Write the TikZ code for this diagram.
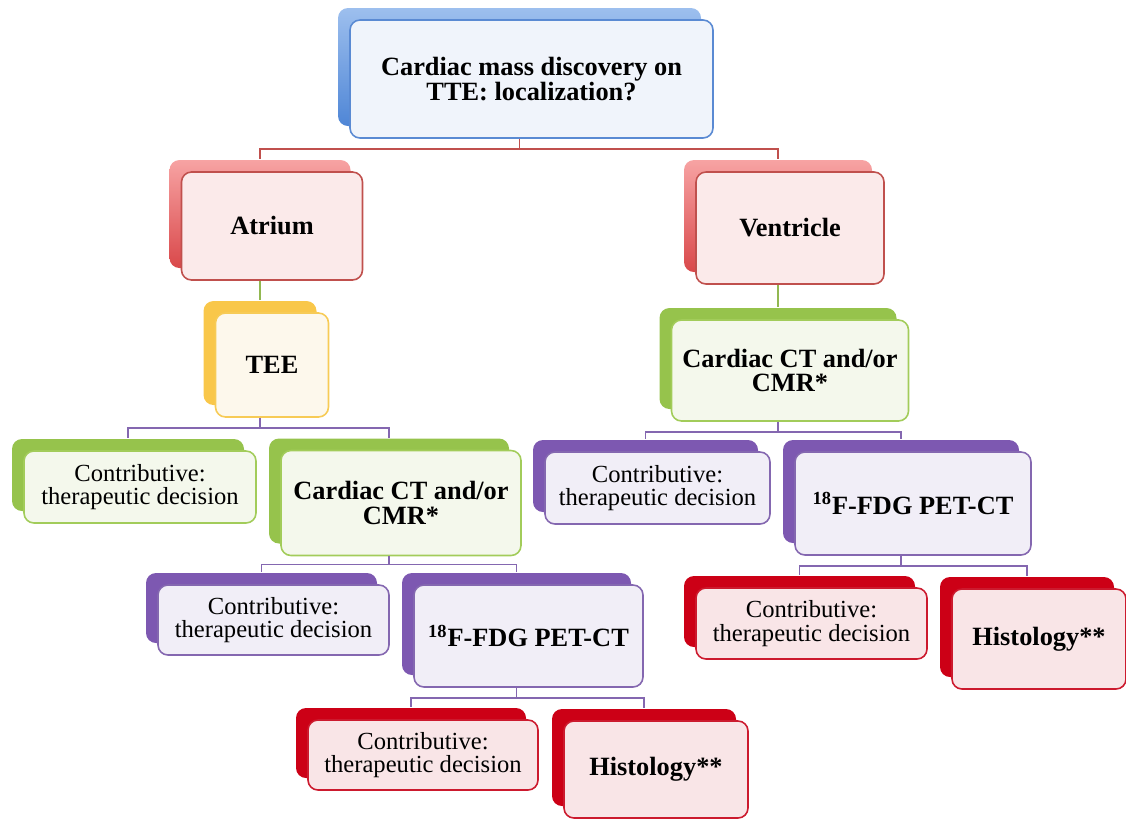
\documentclass[tikz,border=0pt]{standalone}
\usepackage{fontspec}
\setmainfont{Liberation Serif}
\usetikzlibrary{shadows}
\definecolor{bluetop}{HTML}{9DBFEE}
\definecolor{bluebot}{HTML}{4F86D6}
\definecolor{bluefill}{HTML}{F0F4FB}
\definecolor{blueline}{HTML}{5A8AD3}
\definecolor{redtop}{HTML}{F7A3A3}
\definecolor{redbot}{HTML}{D9484A}
\definecolor{redfill}{HTML}{FBEAEA}
\definecolor{redline}{HTML}{C0504D}
\definecolor{yellowback}{HTML}{F9C74A}
\definecolor{yellowfill}{HTML}{FDF8EC}
\definecolor{yellowline}{HTML}{F7CB56}
\definecolor{greenback}{HTML}{96C34C}
\definecolor{greenfill}{HTML}{F4F8EC}
\definecolor{greenline}{HTML}{A2CC5A}
\definecolor{purpleback}{HTML}{7D58B1}
\definecolor{purplefill}{HTML}{F1EEF7}
\definecolor{purpleline}{HTML}{8467B0}
\definecolor{crimsonback}{HTML}{CC0016}
\definecolor{crimsonfill}{HTML}{F9E5E7}
\definecolor{crimsonline}{HTML}{CC1A2E}
\begin{document}
\begin{tikzpicture}[x=0.02cm, y=-0.02cm,
  box/.style = {draw, rounded corners=0.2cm, line width=0.9pt, align=center, inner sep=0pt},
  wh/.style 2 args = {minimum width=#1*0.02cm, minimum height=#2*0.02cm},
  back/.style = {general shadow={#1, shadow xshift=-0.24cm, shadow yshift=0.24cm}},
  head/.style = {font=\fontsize{15}{14}\selectfont\bfseries},
  plain/.style = {font=\fontsize{14}{13.5}\selectfont},
  bluebox/.style = {box, fill=bluefill, draw=blueline, back={top color=bluetop, bottom color=bluebot}},
  redbox/.style = {box, fill=redfill, draw=redline, back={top color=redtop, bottom color=redbot}},
  yellowbox/.style = {box, fill=yellowfill, draw=yellowline, back={fill=yellowback}},
  greenbox/.style = {box, fill=greenfill, draw=greenline, back={fill=greenback}},
  purplebox/.style = {box, fill=purplefill, draw=purpleline, back={fill=purpleback}},
  crimsonbox/.style = {box, fill=crimsonfill, draw=crimsonline, back={fill=crimsonback}},
  redlink/.style = {draw=redline, line width=0.9pt},
  greenlink/.style = {draw=greenline!90!black, line width=0.9pt},
  purplelink/.style = {draw=purpleline, line width=0.9pt}]
\useasboundingbox (0,0) rectangle (1126,822);
% first level
\node[bluebox, head, wh={363}{118}] (mass) at (531.5,79) {Cardiac mass discovery on\\TTE: localization?};
\node[redbox, head, wh={181}{108}] (atrium) at (272,226) {Atrium};
\node[redbox, head, wh={188}{112}] (ventricle) at (790,228) {Ventricle};
% atrium branch
\node[yellowbox, head, wh={113}{104}] (tee) at (272,365) {TEE};
\node[greenbox, plain, wh={232}{72}] (contribA) at (140,487) {Contributive:\\therapeutic decision};
\node[greenbox, head, wh={240}{105}] (ctA) at (401,503) {Cardiac CT and/or\\CMR*};
\node[purplebox, plain, wh={231}{70}] (contribB) at (273.5,620) {Contributive:\\therapeutic decision};
\node[purplebox, head, wh={229}{102}] (petA) at (528.5,636) {\textsuperscript{18}F-FDG PET-CT};
\node[crimsonbox, plain, wh={230}{70}] (contribC) at (423,755) {Contributive:\\therapeutic decision};
\node[crimsonbox, head, wh={184}{97}] (histA) at (656,769.5) {Histology**};
% ventricle branch
\node[greenbox, head, wh={237}{101}] (ctB) at (790,370.5) {Cardiac CT and/or\\CMR*};
\node[purplebox, plain, wh={225}{72}] (contribD) at (657.5,488) {Contributive:\\therapeutic decision};
\node[purplebox, head, wh={236}{103}] (petB) at (913,503.5) {\textsuperscript{18}F-FDG PET-CT};
\node[crimsonbox, plain, wh={231}{71}] (contribE) at (811.5,623.5) {Contributive:\\therapeutic decision};
\node[crimsonbox, head, wh={174}{100}] (histB) at (1039,639) {Histology**};
% connectors
\draw[redlink] ([xshift=-0.24cm]mass.south) -- ++(0,10) -| ([shift={(-0.24cm,0.24cm)}]atrium.north);
\draw[redlink] ([xshift=-0.24cm]mass.south) -- ++(0,10) -| ([shift={(-0.24cm,0.24cm)}]ventricle.north);
\draw[greenlink] ([xshift=-0.24cm]atrium.south) -- ([shift={(-0.24cm,0.24cm)}]tee.north);
\draw[greenlink] ([xshift=-0.24cm]ventricle.south) -- ([shift={(-0.24cm,0.24cm)}]ctB.north);
\draw[purplelink] ([xshift=-0.24cm]tee.south) -- ++(0,10) -| ([shift={(-0.24cm,0.24cm)}]contribA.north);
\draw[purplelink] ([xshift=-0.24cm]tee.south) -- ++(0,10) -| ([shift={(-0.24cm,0.24cm)}]ctA.north);
\draw[purplelink] ([xshift=-0.24cm]ctA.south) -- ++(0,8) -| ([shift={(-0.24cm,0.24cm)}]contribB.north);
\draw[purplelink] ([xshift=-0.24cm]ctA.south) -- ++(0,8) -| ([shift={(-0.24cm,0.24cm)}]petA.north);
\draw[purplelink] ([xshift=-0.24cm]petA.south) -- ++(0,10) -| ([shift={(-0.24cm,0.24cm)}]contribC.north);
\draw[purplelink] ([xshift=-0.24cm]petA.south) -- ++(0,10) -| ([shift={(-0.24cm,0.24cm)}]histA.north);
\draw[purplelink] ([xshift=-0.24cm]ctB.south) -- ++(0,10) -| ([shift={(-0.24cm,0.24cm)}]contribD.north);
\draw[purplelink] ([xshift=-0.24cm]ctB.south) -- ++(0,10) -| ([shift={(-0.24cm,0.24cm)}]petB.north);
\draw[purplelink] ([xshift=-0.24cm]petB.south) -- ++(0,10) -| ([shift={(-0.24cm,0.24cm)}]contribE.north);
\draw[purplelink] ([xshift=-0.24cm]petB.south) -- ++(0,10) -| ([shift={(-0.24cm,0.24cm)}]histB.north);
\end{tikzpicture}
\end{document}
